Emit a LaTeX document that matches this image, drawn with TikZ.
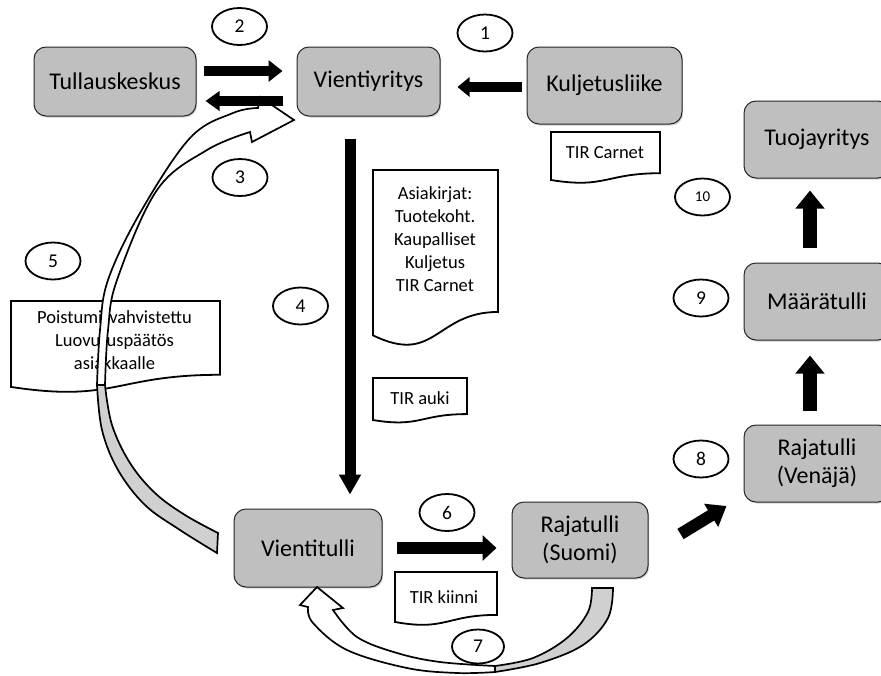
\documentclass[tikz,border=0pt]{standalone}
\usepackage{fontspec}
\setmainfont{Carlito}
\usetikzlibrary{shapes.geometric,arrows.meta,shadows}
\definecolor{boxgray}{RGB}{191,191,191}
\definecolor{bandgray}{RGB}{208,208,208}
\newcommand{\docshape}[4]{%
  \draw[docline] (#1,#2) -- ({#1+#3},#2) -- ({#1+#3},{#2+0.802*#4})
    .. controls ({#1+0.5*#3},{#2+0.802*#4}) and ({#1+0.5*#3},{#2+1.107*#4}) .. (#1,{#2+0.934*#4}) -- cycle;}
\begin{document}
\begin{tikzpicture}[x=1pt,y=-1pt,
  box/.style={draw=black!85, line width=1pt, fill=boxgray, rounded corners=12pt, align=center,
    inner sep=0pt, font=\fontsize{24}{28}\selectfont,
    drop shadow={shadow xshift=1.2pt, shadow yshift=-1.5pt, opacity=0.35}},
  num/.style={ellipse, draw, line width=1.8pt, fill=white, minimum width=55pt, minimum height=37pt,
    inner sep=0pt, font=\fontsize{19.5}{21}\selectfont},
  docline/.style={draw, line width=1.8pt, fill=white},
  doctext/.style={align=center, inner sep=0pt, font=\fontsize{18.5}{23}\selectfont},
  band/.style={draw, line width=1.7pt, line join=miter},
  blk/.style args={#1/#2/#3}{draw=black, line width=#1, -{Triangle[length=#3,width=#2]}}
]
\useasboundingbox (0,0) rectangle (881,675);

% boxes
\node[box, minimum width=162pt, minimum height=69pt] (tul) at (115,81.5) {Tullauskeskus};
\node[box, minimum width=143pt, minimum height=69pt] (vy) at (368.5,81.5) {Vientiyritys};
\node[box, minimum width=155pt, minimum height=77pt] (kul) at (604.5,85.5) {Kuljetusliike};
\node[box, minimum width=146pt, minimum height=77pt] (tuo) at (817,139.5) {Tuojayritys};
\node[box, minimum width=146pt, minimum height=77pt] (maa) at (817,301.5) {Määrätulli};
\node[box, minimum width=146pt, minimum height=77pt] (ven) at (817,463.5) {Rajatulli\\(Venäjä)};
\node[box, minimum width=148pt, minimum height=78pt] (vt) at (308,548) {Vientitulli};
\node[box, minimum width=136pt, minimum height=76pt] (ras) at (580,540) {Rajatulli\\(Suomi)};

% documents
\docshape{551}{132}{109}{51.4}
\docshape{373}{170}{125}{177}
\docshape{373}{378}{94}{45}
\docshape{11}{301}{209}{92}
\docshape{395}{572}{102}{53.5}
\node[doctext] (tirc) at (605,153) {TIR Carnet};
\node[doctext] (asia) at (435,239) {Asiakirjat:\\Tuotekoht.\\Kaupalliset\\Kuljetus\\TIR Carnet};
\node[doctext] (auki) at (420,398) {TIR auki};
\node[doctext] (pois) at (114.5,340) {Poistumisvahvistettu\\Luovutuspäätös\\asiakkaalle};
\node[doctext] (kiin) at (444,597) {TIR kiinni};

% curved arrow 5 (Vientitulli -> Vientiyritys)
\draw[band, fill=white]
  plot[smooth, tension=0.6] coordinates {(97,385) (100,330) (108,280) (140,213) (190,138) (233,113) (258,108)}
  -- (260,97) -- (294,120) -- (252,142)
  -- plot[smooth, tension=0.6] coordinates {(250,132) (207,150) (157,190) (117,280) (108,330) (105,385)}
  -- cycle;
\draw[band, fill=bandgray]
  plot[smooth, tension=0.6] coordinates {(217,553) (180,530) (145,505) (118,470) (102,430) (97,385)}
  -- plot[smooth, tension=0.6] coordinates {(105,385) (112,425) (130,463) (155,493) (185,515) (218,533)}
  -- cycle;

% curved arrow 7 (Rajatulli Suomi -> Vientitulli)
\draw[band, fill=white]
  (300,605) -- (317,587) -- (343,608)
  -- plot[smooth, tension=0.6] coordinates {(333,610) (357,637) (397,653) (440,662) (495,666)}
  -- plot[smooth, tension=0.6] coordinates {(495,672) (457,673) (407,668) (347,650) (313,623) (308,607)}
  -- cycle;
\draw[band, fill=bandgray]
  plot[smooth, tension=0.6] coordinates {(495,666) (533,658) (567,638) (588,612) (592,588)}
  -- (613,588)
  -- plot[smooth, tension=0.6] coordinates {(613,588) (608,618) (583,645) (540,663) (495,672)}
  -- cycle;

% black block arrows
\draw[blk=10pt/21pt/14pt] ([xshift=7pt,yshift=10.5pt]tul.east) -- ([xshift=-14pt,yshift=10.5pt]vy.west);
\draw[blk=10pt/19pt/14pt] ([xshift=-14pt,yshift=-19.5pt]vy.west) -- ([xshift=9pt,yshift=-19.5pt]tul.east);
\draw[blk=10pt/19pt/12pt] ([xshift=-5pt,yshift=-1.5pt]kul.west) -- ([xshift=17pt,yshift=-5.5pt]vy.east);
\draw[blk=11pt/21pt/20pt] ([xshift=-18.5pt,yshift=-22pt]vy.south) -- ([xshift=42pt,yshift=14pt]vt.north);
\draw[blk=12pt/25pt/14pt] ([xshift=14pt]vt.east) -- ([xshift=-15pt,yshift=-8pt]ras.west);
\draw[blk=12pt/26pt/18pt] ([xshift=32pt,yshift=6pt]ras.east) -- ([xshift=-17pt,yshift=-42.5pt]ven.west);
\draw[blk=14pt/28pt/18pt] ([xshift=-7pt,yshift=14pt]ven.north) -- ([xshift=-7pt,yshift=-15pt]maa.south);
\draw[blk=14pt/28pt/18pt] ([xshift=-7pt,yshift=15pt]maa.north) -- ([xshift=-7pt,yshift=-12pt]tuo.south);

% step numbers
\node[num] (n1) at (485,33) {1};
\node[num] (n2) at (239.5,26.5) {2};
\node[num] (n3) at (240,177.5) {3};
\node[num] (n4) at (300.5,306) {4};
\node[num] (n5) at (53,261) {5};
\node[num] (n6) at (447,512.5) {6};
\node[num, minimum width=52pt, minimum height=34pt] (n7) at (478,646.5) {7};
\node[num] (n8) at (701,459) {8};
\node[num] (n9) at (701,298) {9};
\node[num, font=\fontsize{15}{17}\selectfont] (n10) at (702.5,197) {10};
\end{tikzpicture}
\end{document}
